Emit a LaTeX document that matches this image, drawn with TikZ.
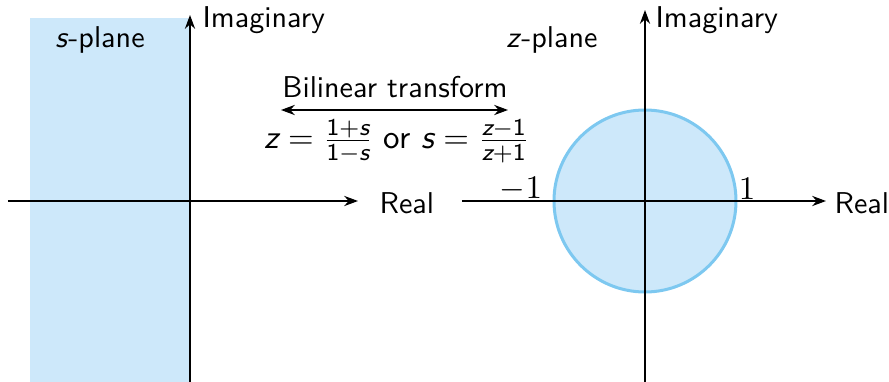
\documentclass[tikz,border=0pt]{standalone}
\usepackage{amsmath}
\usetikzlibrary{arrows.meta}
\definecolor{regionfill}{RGB}{205,232,250}
\definecolor{regionline}{RGB}{125,200,240}
\newcommand{\sv}[1]{\text{\sffamily\itshape #1}}
\newcommand{\sn}[1]{\text{\sffamily #1}}
\tikzset{
  axis/.style={line width=0.42pt,-{Stealth[length=4.6pt,width=3.4pt]}},
  lbl/.style={font=\sffamily,inner sep=0pt},
}
\begin{document}
\begin{tikzpicture}[x=0.332pt,y=-0.332pt]
\useasboundingbox (0,0) rectangle (889,382);
% left s-plane
\fill[regionfill] (30,18) rectangle (190,382);
\coordinate (lxs) at (8,201);
\coordinate (lxe) at (358,201);
\coordinate (lys) at (190,382);
\coordinate (lye) at (190,15);
\draw[axis] (lxs) -- (lxe);
\draw[axis] (lys) -- (lye);
\node[lbl,anchor=west] (lreal) at (379,203) {Real};
\node[lbl,anchor=west] (limag) at (202,20) {Imaginary};
\node[lbl] (splane) at (100,40) {\textit{s}-plane};
% transform
\node[lbl] (bil) at (395,87) {Bilinear transform};
\coordinate (ba) at (281,110);
\coordinate (bb) at (508,110);
\draw[line width=0.42pt,{Stealth[length=4.6pt,width=3.4pt]}-{Stealth[length=4.6pt,width=3.4pt]}] (ba) -- (bb);
\node[lbl,font=\sffamily\fontsize{10.95}{13}\selectfont] (eq) at (397,141) {$\sv{z}=\frac{\sn{1}+\sv{s}}{\sn{1}-\sv{s}}$ or $\sv{s}=\frac{\sv{z}-\sn{1}}{\sv{z}+\sn{1}}$};
% right z-plane
\node[circle,draw=regionline,fill=regionfill,line width=1pt,minimum size=182*0.332pt,inner sep=0pt] (uc) at (645,201) {};
\coordinate (rxs) at (462,201);
\coordinate (rxe) at (826,201);
\coordinate (rys) at (645,382);
\coordinate (rye) at (645,10);
\draw[axis] (rxs) -- (rxe);
\draw[axis] (rys) -- (rye);
\node[lbl,anchor=west] (rreal) at (834,203) {Real};
\node[lbl,anchor=west] (rimag) at (655,20) {Imaginary};
\node[lbl] (zplane) at (552,40) {\textit{z}-plane};
\node[inner sep=0pt,font=\fontsize{10.95}{13}\selectfont] (m1) at (521,189) {$-1$};
\node[inner sep=0pt,font=\fontsize{10.95}{13}\selectfont] (p1) at (747,189) {$1$};
\end{tikzpicture}
\end{document}
